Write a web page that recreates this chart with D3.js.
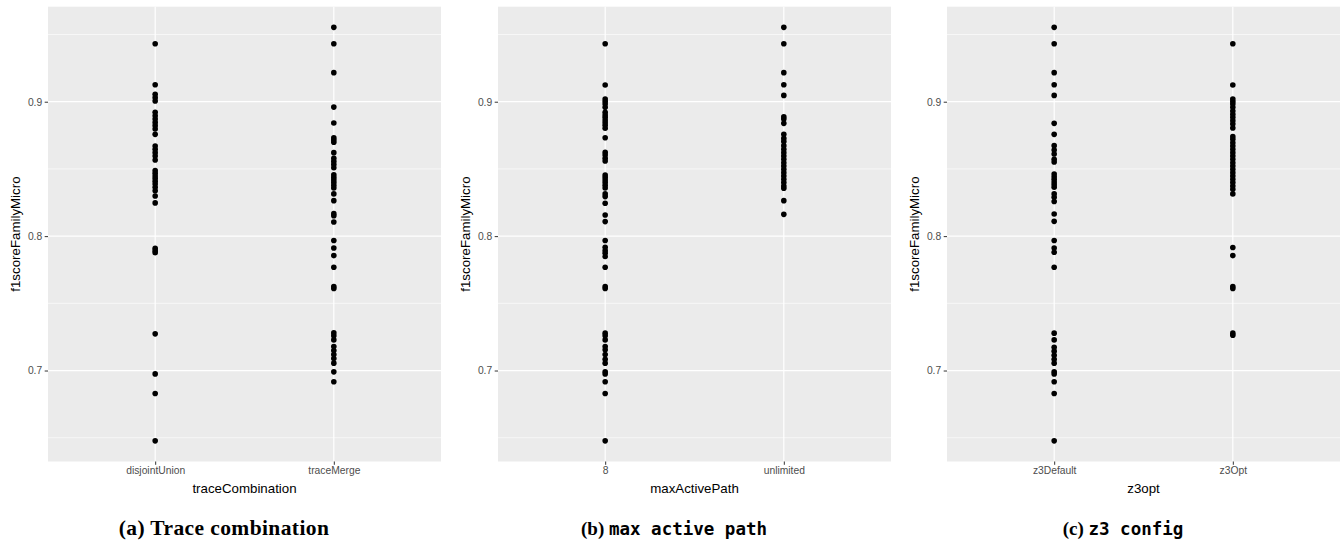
<!DOCTYPE html>
<html>
<head>
<meta charset="utf-8">
<script src="https://cdn.jsdelivr.net/npm/d3@7"></script>
<style>
  body { margin: 0; background: #fff; }
  svg { display: block; }
</style>
</head>
<body>
<svg id="fig" width="1341" height="544"></svg>
<script>
// values, one list per group
const yLabel = "f1scoreFamilyMicro";
const yTicks = [0.7, 0.8, 0.9];
const yMinor = [0.65, 0.75, 0.85, 0.95];

const catsA = ["disjointUnion", "traceMerge"];
const disjointUnion = [0.9431, 0.9126, 0.9055, 0.9030, 0.9005, 0.8921, 0.8896, 0.8871, 0.8846, 0.8822, 0.8797,
    0.8757, 0.8670, 0.8646, 0.8621, 0.8596, 0.8566, 0.8487, 0.8467, 0.8447, 0.8428, 0.8408, 0.8388, 0.8363,
    0.8338, 0.8299, 0.8247, 0.7910, 0.7892, 0.7877, 0.7273, 0.6975, 0.6829, 0.6477];
const traceMerge = [0.9553, 0.9431, 0.9216, 0.8960, 0.8841, 0.8732, 0.8715, 0.8698, 0.8621, 0.8579, 0.8556,
    0.8532, 0.8509, 0.8457, 0.8437, 0.8418, 0.8398, 0.8378, 0.8358, 0.8314, 0.8264, 0.8167, 0.8152, 0.8105,
    0.7967, 0.7912, 0.7855, 0.7768, 0.7625, 0.7610, 0.7280, 0.7258, 0.7228, 0.7178, 0.7149, 0.7119, 0.7089,
    0.7055, 0.6990, 0.6916];

const catsB = ["8", "unlimited"];
const path8 = [0.9431, 0.9124, 0.9020, 0.9002, 0.8983, 0.8958, 0.8921, 0.8901, 0.8884, 0.8864, 0.8844, 0.8824,
    0.8802, 0.8732, 0.8623, 0.8603, 0.8579, 0.8559, 0.8455, 0.8437, 0.8418, 0.8398, 0.8378, 0.8358, 0.8314,
    0.8294, 0.8244, 0.8157, 0.8108, 0.7967, 0.7917, 0.7892, 0.7872, 0.7848, 0.7768, 0.7625, 0.7610, 0.7278,
    0.7258, 0.7228, 0.7178, 0.7154, 0.7119, 0.7084, 0.7055, 0.6990, 0.6975, 0.6916, 0.6829, 0.6477];
const pathUnlimited = [0.9553, 0.9431, 0.9216, 0.9126, 0.9047, 0.8888, 0.8871, 0.8839, 0.8757, 0.8727, 0.8703,
    0.8673, 0.8646, 0.8621, 0.8596, 0.8571, 0.8546, 0.8522, 0.8497, 0.8472, 0.8447, 0.8423, 0.8398, 0.8373,
    0.8356, 0.8264, 0.8162];

const catsC = ["z3Default", "z3Opt"];
const z3Default = [0.9553, 0.9431, 0.9216, 0.9126, 0.9047, 0.8839, 0.8757, 0.8673, 0.8641, 0.8611, 0.8571,
    0.8551, 0.8462, 0.8442, 0.8423, 0.8403, 0.8383, 0.8363, 0.8314, 0.8289, 0.8257, 0.8165, 0.8110, 0.7967,
    0.7912, 0.7880, 0.7768, 0.7278, 0.7228, 0.7173, 0.7144, 0.7114, 0.7084, 0.7055, 0.6990, 0.6975, 0.6916,
    0.6829, 0.6477];
const z3Opt = [0.9431, 0.9124, 0.9020, 0.9002, 0.8983, 0.8958, 0.8931, 0.8906, 0.8884, 0.8859, 0.8834, 0.8804,
    0.8740, 0.8720, 0.8695, 0.8670, 0.8646, 0.8621, 0.8596, 0.8571, 0.8546, 0.8522, 0.8497, 0.8472, 0.8447,
    0.8423, 0.8398, 0.8373, 0.8348, 0.8314, 0.7915, 0.7855, 0.7625, 0.7610, 0.7278, 0.7263];

const panels = [
    { cats: catsA, series: [disjointUnion, traceMerge], xLabel: "traceCombination", tag: "(a)", caption: "Trace combination", mono: false },
    { cats: catsB, series: [path8, pathUnlimited], xLabel: "maxActivePath", tag: "(b)", caption: "max active path", mono: true },
    { cats: catsC, series: [z3Default, z3Opt], xLabel: "z3opt", tag: "(c)", caption: "z3 config", mono: true }
];

function strip_plot(svg, p, offset) {
    const left = 48, right = 441, top = 6.7, bottom = 461.5;

    const pts = [];
    p.cats.forEach((c, i) => p.series[i].forEach(v => pts.push({ cat: c, val: v })));

    // ggplot style 5% expansion
    const ext = d3.extent(pts, d => d.val);
    const pad = (ext[1] - ext[0]) * 0.05;

    const xScale = d3.scalePoint()
        .domain(p.cats)
        .range([left, right])
        .padding(0.6);

    const yScale = d3.scaleLinear()
        .domain([ext[0] - pad, ext[1] + pad])
        .range([bottom, top]);

    const g = svg.append("g").attr("transform", `translate(${offset},0)`);

    g.append("rect")
        .attr("x", left).attr("y", top)
        .attr("width", right - left).attr("height", bottom - top)
        .attr("fill", "#EBEBEB");

    // grid
    g.selectAll(".minor")
        .data(yMinor)
        .join("line")
        .attr("x1", left).attr("x2", right)
        .attr("y1", d => yScale(d)).attr("y2", d => yScale(d))
        .attr("stroke", "#fff").attr("stroke-width", 0.6);

    g.selectAll(".major")
        .data(yTicks)
        .join("line")
        .attr("x1", left).attr("x2", right)
        .attr("y1", d => yScale(d)).attr("y2", d => yScale(d))
        .attr("stroke", "#fff").attr("stroke-width", 1.2);

    g.selectAll(".vgrid")
        .data(p.cats)
        .join("line")
        .attr("x1", d => xScale(d)).attr("x2", d => xScale(d))
        .attr("y1", top).attr("y2", bottom)
        .attr("stroke", "#fff").attr("stroke-width", 1.2);

    // axes
    const yAxis = g.append("g")
        .attr("transform", `translate(${left},0)`)
        .call(d3.axisLeft(yScale).tickValues(yTicks).tickFormat(d3.format(".1f")).tickSize(3.3).tickPadding(2.5));
    const xAxis = g.append("g")
        .attr("transform", `translate(0,${bottom})`)
        .call(d3.axisBottom(xScale).tickSize(3.3).tickPadding(2));

    [yAxis, xAxis].forEach(a => {
        a.select(".domain").remove();
        a.selectAll(".tick line").attr("stroke", "#333333").attr("stroke-width", 1);
        a.selectAll(".tick text")
            .attr("fill", "#4D4D4D")
            .style("font-family", "'Liberation Sans', Arial, sans-serif")
            .style("font-size", "10.3px");
    });

    // points
    g.selectAll(".pt")
        .data(pts)
        .join("circle")
        .attr("cx", d => xScale(d.cat))
        .attr("cy", d => yScale(d.val))
        .attr("r", 2.8)
        .attr("fill", "#000");

    // axis titles
    g.append("text")
        .attr("x", (left + right) / 2)
        .attr("y", 493)
        .attr("text-anchor", "middle")
        .style("font-family", "'Liberation Sans', Arial, sans-serif")
        .style("font-size", "13.3px")
        .attr("fill", "#000")
        .text(p.xLabel);

    g.append("text")
        .attr("transform", `translate(19.5,${(top + bottom) / 2}) rotate(-90)`)
        .attr("text-anchor", "middle")
        .style("font-family", "'Liberation Sans', Arial, sans-serif")
        .style("font-size", "13.3px")
        .attr("fill", "#000")
        .text(yLabel);

    // caption under the panel
    const cap = g.append("text")
        .attr("x", 224)
        .attr("y", 535)
        .attr("text-anchor", "middle")
        .style("font-family", "'Liberation Serif', serif")
        .style("font-weight", "bold")
        .style("font-size", p.mono ? "19px" : "21.5px")
        .style("letter-spacing", p.mono ? "0px" : "0.4px")
        .attr("fill", "#000");
    cap.append("tspan").text(p.tag + " ");
    cap.append("tspan")
        .style("font-family", p.mono ? "'DejaVu Sans Mono', monospace" : "'Liberation Serif', serif")
        .style("font-size", p.mono ? "17.5px" : "21.5px")
        .text(p.caption);
}

const svg = d3.select("#fig");
[0, 450, 899].forEach((off, i) => strip_plot(svg, panels[i], off));
</script>
</body>
</html>
